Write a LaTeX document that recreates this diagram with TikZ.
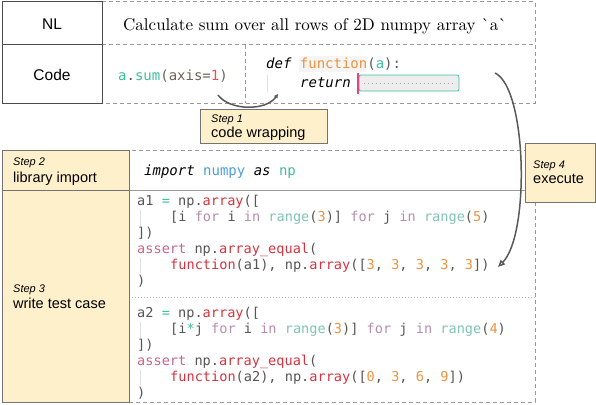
\documentclass[tikz,border=0pt]{standalone}
\usepackage{fontspec}
\usetikzlibrary{arrows.meta}
\setsansfont{Liberation Sans}
\newfontfamily\codefont{DejaVu Sans Mono}
\newfontfamily\labfont{Liberation Sans}
\newfontfamily\nlfont{lmroman10-regular.otf}
\definecolor{kteal}{HTML}{3DBE9B}
\definecolor{kblue}{HTML}{4A9FD8}
\definecolor{korange}{HTML}{EE9140}
\definecolor{kred}{HTML}{D3343F}
\definecolor{kassert}{HTML}{C4678A}
\definecolor{kmauve}{HTML}{B68DAE}
\definecolor{krange}{HTML}{7FC4B3}
\definecolor{kdef}{HTML}{555555}
\definecolor{kone}{HTML}{E0525A}
\definecolor{kaxis}{HTML}{6B6355}
\definecolor{stepfill}{HTML}{FFF0CC}
\definecolor{kcursor}{HTML}{E8457A}
\newcommand{\cTe}[1]{\textcolor{kteal}{#1}}
\newcommand{\cBl}[1]{\textcolor{kblue}{#1}}
\newcommand{\cOr}[1]{\textcolor{korange}{#1}}
\newcommand{\cRe}[1]{\textcolor{kred}{#1}}
\newcommand{\cAs}[1]{\textcolor{kassert}{#1}}
\newcommand{\cMa}[1]{\textcolor{kmauve}{#1}}
\newcommand{\cRg}[1]{\textcolor{krange}{#1}}
\begin{document}
\begin{tikzpicture}[x=1pt,y=-1pt,
  solidbox/.style={draw=black!70, line width=1pt},
  dashline/.style={draw=black!40, line width=1pt, dash pattern=on 4pt off 3pt},
  stepbox/.style={draw=black!55, line width=1pt, fill=stepfill},
  steplab/.style={anchor=base west, inner sep=0pt, font=\labfont\itshape\fontsize{11}{13}\selectfont},
  steptitle/.style={anchor=base west, inner sep=0pt, font=\labfont\fontsize{14.5}{17}\selectfont},
  rowlab/.style={anchor=base, inner sep=0pt, font=\labfont\fontsize{15.5}{18}\selectfont},
  codetop/.style={anchor=base west, inner sep=0pt, text=kdef, font=\codefont\fontsize{14}{16}\selectfont},
  codeln/.style={anchor=base west, inner sep=0pt, text=kdef, font=\codefont\fontsize{13.6}{16}\selectfont},
  guide/.style={draw=black!12, line width=0.6pt},
  flowarr/.style={draw=black!65, line width=1.5pt, -{Triangle[open, length=7pt, width=6pt]}}
]
\useasboundingbox (0,0) rectangle (596,404);

% ---------- top table ----------
\draw[dashline] (102,2) rectangle (535,103);
\draw[dashline] (102,45) -- (535,45);
\draw[dashline] (245,45) -- (245,103);
\draw[solidbox] (2,2) rectangle (102,45);
\draw[solidbox] (2,45) rectangle (102,103);
\node[rowlab] (nl) at (52,30) {NL};
\node[rowlab] (code) at (52,80) {Code};
\node[anchor=base, inner sep=0pt, font=\nlfont\fontsize{17}{20}\selectfont] (nltext) at (315,31)
  {Calculate sum over all rows of 2D numpy array `a`};
\node[codetop] (sum) at (118,80) {\cTe{a}.\cTe{sum}\textcolor{kaxis}{(axis=}\textcolor{kone}{1}\textcolor{kaxis}{)}};
\fill[black!4] (299,56) rectangle (366,72);
\node[codetop] (defl) at (266,68) {\textcolor{black}{\itshape def} \cOr{function}(\cTe{a}):};
\node[codetop] (retl) at (300,87) {\textcolor{black}{\itshape return}};
\draw[guide] (267,75) -- (267,92);
\draw[draw=kteal, fill=black!7, line width=0.8pt, rounded corners=2pt] (359,75) rectangle (459,91);
\draw[black!35, line width=1pt, dash pattern=on 1pt off 3pt] (364,83) -- (455,83);
\draw[kcursor, line width=1.4pt] (358,73) -- (358,94);

% wrapping arrow
\coordinate (w1) at (218,95);
\coordinate (w2) at (278,94);
\draw[flowarr, -{Triangle[open, length=4pt, width=4pt]}] (w1) .. controls (230,111) and (266,111) .. (w2);

% step 1
\draw[stepbox] (200,109) rectangle (327,143);
\node[steplab] (s1a) at (211,122) {Step 1};
\node[steptitle] (s1b) at (211,137) {code wrapping};

% ---------- bottom table ----------
\draw[dashline] (129,150) rectangle (535,402);
\draw[draw=black!40, line width=0.9pt] (129,190) -- (535,190);
\draw[draw=black!30, line width=0.9pt, dash pattern=on 1pt off 2pt] (129,297) -- (535,297);
\draw[stepbox] (2,150) rectangle (129,190);
\draw[stepbox] (2,190) rectangle (129,402);
\node[steplab] (s2a) at (13,165) {Step 2};
\node[steptitle] (s2b) at (13,182) {library import};
\node[steplab] (s3a) at (13,292) {Step 3};
\node[steptitle] (s3b) at (13,308) {write test case};

\node[codetop] (imp) at (144,175) {\textcolor{black}{\itshape import} \cBl{numpy} \textcolor{black}{\itshape as} \cTe{np}};

% test case 1
\draw[guide] (140,210) -- (140,226);
\draw[guide] (140,258) -- (140,274);
\node[codeln] (t1a) at (137,205) {a1 \cTe{=} np.\cRe{array}([};
\node[codeln] (t1b) at (170,221) {[i \cMa{for} i \cMa{in} \cRg{range}(\cOr{3})] \cMa{for} j \cMa{in} \cRg{range}(\cOr{5})};
\node[codeln] (t1c) at (137,237) {])};
\node[codeln] (t1d) at (137,253) {\cAs{assert} np.\cRe{array\_equal}(};
\node[codeln] (t1e) at (170,269) {\cRe{function}(a1), np.\cRe{array}([\cOr{3}, \cOr{3}, \cOr{3}, \cOr{3}, \cOr{3}])};
\node[codeln] (t1f) at (137,285) {)};

% test case 2
\draw[guide] (140,322) -- (140,338);
\draw[guide] (140,370) -- (140,386);
\node[codeln] (t2a) at (137,317) {a2 \cTe{=} np.\cRe{array}([};
\node[codeln] (t2b) at (170,333) {[i\cTe{*}j \cMa{for} i \cMa{in} \cRg{range}(\cOr{3})] \cMa{for} j \cMa{in} \cRg{range}(\cOr{4})};
\node[codeln] (t2c) at (137,349) {])};
\node[codeln] (t2d) at (137,365) {\cAs{assert} np.\cRe{array\_equal}(};
\node[codeln] (t2e) at (170,381) {\cRe{function}(a2), np.\cRe{array}([\cOr{0}, \cOr{3}, \cOr{6}, \cOr{9}])};
\node[codeln] (t2f) at (137,397) {)};

% step 4
\draw[stepbox] (525,143) rectangle (595,202);
\node[steplab] (s4a) at (533,168) {Step 4};
\node[steptitle] (s4b) at (533,183) {execute};

\coordinate (e1) at (495,73);
\coordinate (e2) at (498,267);
\draw[flowarr] (e1) .. controls (527,88) and (530,235) .. (e2);
\end{tikzpicture}
\end{document}
